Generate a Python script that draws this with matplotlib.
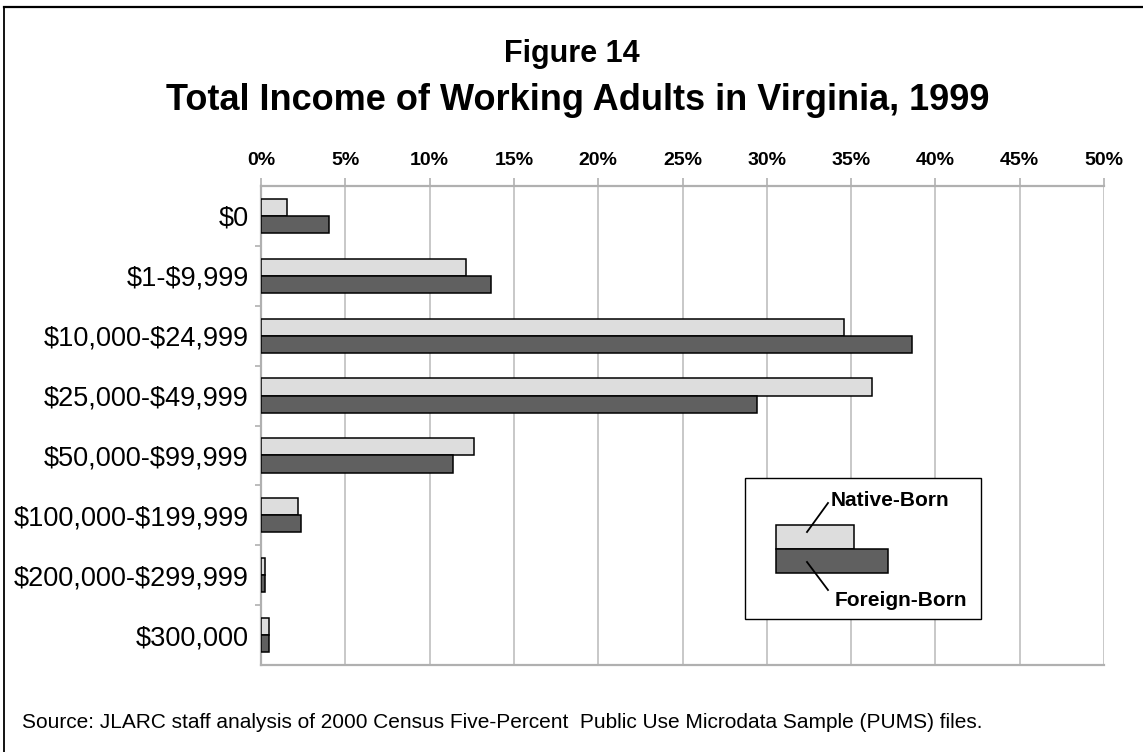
import matplotlib
matplotlib.use("Agg")
import matplotlib.pyplot as plt
import numpy as np
from matplotlib.patches import Rectangle
from matplotlib.lines import Line2D

plt.rcParams['font.family'] = ['Liberation Sans', 'DejaVu Sans']
plt.rcParams['text.parse_math'] = False

categories = ["$0", "$1-$9,999", "$10,000-$24,999", "$25,000-$49,999",
              "$50,000-$99,999", "$100,000-$199,999", "$200,000-$299,999",
              "$300,000"]
native_born = [1.56, 12.18, 34.56, 36.26, 12.63, 2.19, 0.24, 0.47]
foreign_born = [4.05, 13.67, 38.63, 29.42, 11.39, 2.37, 0.24, 0.47]
x_ticks = [0, 5, 10, 15, 20, 25, 30, 35, 40, 45, 50]
x_tick_labels = [f"{v}%" for v in x_ticks]

W, H = 1143, 752
fig = plt.figure(figsize=(W / 100, H / 100), dpi=100)

def fx(px):
    return px / W

def fy(py):
    return 1 - py / H

ax = fig.add_axes([fx(261), fy(665), fx(1104) - fx(261), fy(186) - fy(665)])

y = np.arange(len(categories))
h = 0.285
ax.barh(y - h / 2, native_born, height=h, color="#DDDDDD", edgecolor="black", linewidth=1.1, zorder=3)
ax.barh(y + h / 2, foreign_born, height=h, color="#606060", edgecolor="black", linewidth=1.1, zorder=3)

ax.set_xlim(0, 50)
ax.set_ylim(len(categories) - 0.5, -0.5)
ax.xaxis.tick_top()
ax.set_xticks(x_ticks)
ax.set_xticklabels(x_tick_labels, fontsize=14, fontweight="bold")
ax.tick_params(axis="x", which="major", length=6, width=1.2, color="#B0B0B0", pad=6)
ax.set_yticks(y)
ax.set_yticklabels(categories, fontsize=19.5)
ax.tick_params(axis="y", which="major", length=0, pad=9)
ax.set_yticks(np.arange(0.5, len(categories) - 0.5, 1), minor=True)
ax.tick_params(axis="y", which="minor", length=4, width=1.2, color="#B0B0B0")
ax.grid(axis="x", color="#C4C4C4", linewidth=1.3, zorder=0)
for s in ["top", "bottom", "left"]:
    ax.spines[s].set_color("#B0B0B0")
    ax.spines[s].set_linewidth(1.6)
ax.spines["right"].set_visible(False)

# titles
fig.text(0.5, fy(62), "Figure 14", ha="center", va="baseline", fontsize=22, fontweight="bold")
fig.text(fx(578), fy(110), "Total Income of Working Adults in Virginia, 1999", ha="center",
         va="baseline", fontsize=26, fontweight="bold")
fig.text(fx(22), fy(728), "Source: JLARC staff analysis of 2000 Census Five-Percent  Public Use Microdata Sample (PUMS) files.",
         ha="left", va="baseline", fontsize=15)

# frame (left and top)
fig.add_artist(Line2D([fx(4), fx(4)], [fy(7), 0], color="black", linewidth=1.3, transform=fig.transFigure))
fig.add_artist(Line2D([fx(4), 1], [fy(7), fy(7)], color="black", linewidth=1.6, transform=fig.transFigure))

# legend
fig.add_artist(Rectangle((fx(745), fy(619)), fx(981) - fx(745), fy(478) - fy(619), facecolor="white",
                         edgecolor="black", linewidth=1.0, transform=fig.transFigure, zorder=5))
fig.add_artist(Rectangle((fx(776), fy(549)), fx(854) - fx(776), fy(525) - fy(549), facecolor="#DDDDDD",
                         edgecolor="black", linewidth=1.1, transform=fig.transFigure, zorder=6))
fig.add_artist(Rectangle((fx(776), fy(573)), fx(888) - fx(776), fy(549) - fy(573), facecolor="#606060",
                         edgecolor="black", linewidth=1.1, transform=fig.transFigure, zorder=6))
fig.add_artist(Line2D([fx(828), fx(807)], [fy(503), fy(532)], color="black", linewidth=1.3,
                      transform=fig.transFigure, zorder=7))
fig.add_artist(Line2D([fx(807), fx(828)], [fy(562), fy(590)], color="black", linewidth=1.3,
                      transform=fig.transFigure, zorder=7))
fig.text(fx(831), fy(501), "Native-Born", ha="left", va="center", fontsize=15, fontweight="bold", zorder=8)
fig.text(fx(835), fy(600), "Foreign-Born", ha="left", va="center", fontsize=15, fontweight="bold", zorder=8)

fig.savefig("out.png", dpi=100)
